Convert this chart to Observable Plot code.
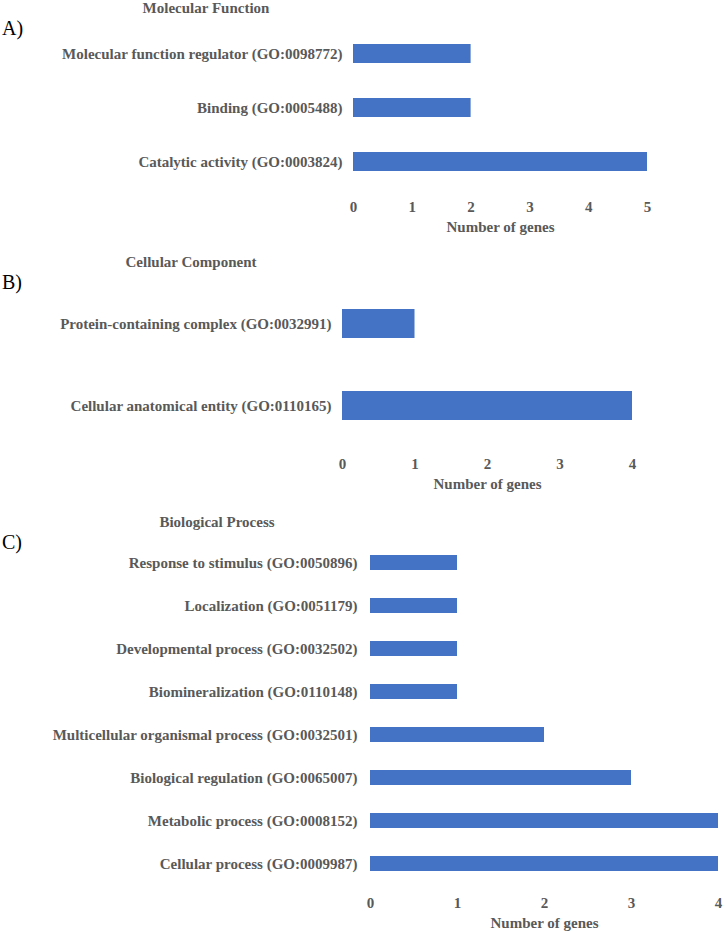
<!DOCTYPE html>
<html>
<head>
<meta charset="utf-8">
<script src="https://cdn.jsdelivr.net/npm/d3@7"></script>
<script src="https://cdn.jsdelivr.net/npm/@observablehq/plot@0.6"></script>
<style>
  html, body { margin: 0; padding: 0; background: #fff; }
  #wrap { position: relative; width: 725px; height: 933px; overflow: hidden; font-family: 'Liberation Serif'; }
  .panel { position: absolute; left: 0; }
  .title { position: absolute; transform: translate(-50%, -50%); font-family: 'Liberation Serif'; font-size: 15px; font-weight: bold; color: #595959; white-space: nowrap; line-height: 1; }
  .tag { position: absolute; transform: translate(0, -50%); font-family: 'Liberation Serif'; font-size: 20px; color: #000; line-height: 1; }
</style>
</head>
<body>
<div id="wrap"></div>
<script>
// ---- Data ----
const mfCategories = [
  "Molecular function regulator (GO:0098772)",
  "Binding (GO:0005488)",
  "Catalytic activity (GO:0003824)"
];
const mfCounts = [2, 2, 5];
const mfTicks = [0, 1, 2, 3, 4, 5];

const ccCategories = [
  "Protein-containing complex (GO:0032991)",
  "Cellular anatomical entity (GO:0110165)"
];
const ccCounts = [1, 4];
const ccTicks = [0, 1, 2, 3, 4];

const bpCategories = [
  "Response to stimulus (GO:0050896)",
  "Localization (GO:0051179)",
  "Developmental process (GO:0032502)",
  "Biomineralization (GO:0110148)",
  "Multicellular organismal process (GO:0032501)",
  "Biological regulation (GO:0065007)",
  "Metabolic process (GO:0008152)",
  "Cellular process (GO:0009987)"
];
const bpCounts = [1, 1, 1, 1, 2, 3, 4, 4];
const bpTicks = [0, 1, 2, 3, 4];

const panelTitles = ["Molecular Function", "Cellular Component", "Biological Process"];
const panelTags = ["A)", "B)", "C)"];
const axisTitle = "Number of genes";

// ---- Drawing ----
const wrap = document.getElementById("wrap");
const TEXT = "#595959";
const BAR = "#4472C4";
const FONT = "'Liberation Serif'";

function panel(cfg) {
  const data = cfg.cats.map((c, i) => ({category: c, count: cfg.vals[i]}));
  const chart = Plot.plot({
    width: 725,
    height: cfg.height,
    marginLeft: cfg.marginLeft,
    marginRight: cfg.marginRight,
    marginTop: cfg.marginTop,
    marginBottom: cfg.marginBottom,
    style: {fontFamily: FONT, fontSize: "15px", fontWeight: "bold", color: TEXT, background: "#fff"},
    x: {domain: [0, cfg.xmax], axis: null},
    y: {domain: cfg.cats, paddingInner: cfg.pi, paddingOuter: cfg.po, axis: null},
    marks: [
      Plot.barX(data, {x: "count", y: "category", fill: BAR}),
      Plot.axisX({ticks: cfg.ticks, tickSize: 0, tickPadding: 10, tickFormat: d => String(d), label: null, fill: TEXT, fontSize: 15, fontWeight: "bold", fontFamily: FONT}),
      Plot.axisY({tickSize: 0, tickPadding: cfg.ypad, label: null, fill: TEXT, fontSize: 15, fontWeight: "bold", fontFamily: FONT}),
      Plot.text([axisTitle], {text: d => d, frameAnchor: "bottom", dy: cfg.titleDy, fill: TEXT, fontSize: 15, fontWeight: "bold", fontFamily: FONT})
    ]
  });
  const div = document.createElement("div");
  div.className = "panel";
  div.style.top = cfg.top + "px";
  div.appendChild(chart);
  wrap.appendChild(div);
}

panel({cats: mfCategories, vals: mfCounts, ticks: mfTicks, xmax: 5,
  top: 0, height: 240, marginLeft: 353, marginRight: 78, marginTop: 23, marginBottom: 49,
  pi: 0.651, po: 0.367, ypad: 11, titleDy: 40});
panel({cats: ccCategories, vals: ccCounts, ticks: ccTicks, xmax: 4,
  top: 240, height: 260, marginLeft: 342, marginRight: 93, marginTop: 41, marginBottom: 52,
  pi: 0.646, po: 0.341, ypad: 11, titleDy: 40});
panel({cats: bpCategories, vals: bpCounts, ticks: bpTicks, xmax: 4,
  top: 500, height: 433, marginLeft: 370, marginRight: 7, marginTop: 39, marginBottom: 46,
  pi: 0.653, po: 0.346, ypad: 13, titleDy: 40});

const titlePos = [[206, 8], [191, 262], [217, 522]];
const tagPos = [[2, 28], [2, 282], [2, 542]];
panelTitles.forEach((t, i) => {
  const d = document.createElement("div");
  d.className = "title";
  d.style.left = titlePos[i][0] + "px";
  d.style.top = titlePos[i][1] + "px";
  d.textContent = t;
  wrap.appendChild(d);
  const g = document.createElement("div");
  g.className = "tag";
  g.style.left = tagPos[i][0] + "px";
  g.style.top = tagPos[i][1] + "px";
  g.textContent = panelTags[i];
  wrap.appendChild(g);
});
</script>
</body>
</html>
